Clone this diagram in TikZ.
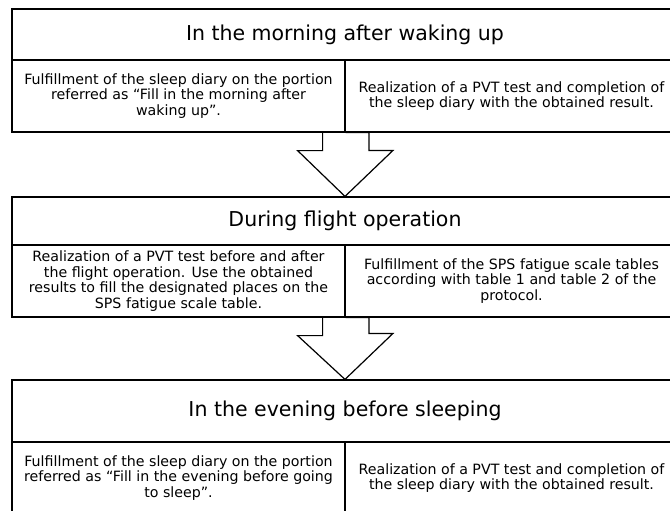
\documentclass[tikz,border=0pt]{standalone}
\usepackage{fontspec}
\setmainfont{DejaVu Sans}
\begin{document}
\begin{tikzpicture}[x=1pt, y=-1pt, line width=1.2pt,
	head/.style={draw, rectangle, minimum width=666pt, inner sep=0pt, font=\fontsize{20.5}{24}\selectfont},
	cell/.style={draw, rectangle, minimum width=333pt, minimum height=72pt, inner sep=0pt, align=center, font=\fontsize{14.2}{15.5}\selectfont}]
	\useasboundingbox (0,0) rectangle (670,511);
	\clip (0,0) rectangle (670,511);
	
	%morning
	\node (head1) at (345,34.5) [head, minimum height=51pt]{In the morning after waking up};
	\node (left1) at (178.5,96) [cell]{Fulfillment of the sleep diary on the portion\\referred as “Fill in the morning after\\waking up”.};
	\node (right1) at (511.5,96) [cell]{Realization of a PVT test and completion of\\the sleep diary with the obtained result.};
	
	%flight
	\node (head2) at (345,221) [head, minimum height=48pt]{During flight operation};
	\node (left2) at (178.5,281) [cell]{Realization of a PVT test before and after\\the flight operation. Use the obtained\\results to fill the designated places on the\\SPS fatigue scale table.};
	\node (right2) at (511.5,281) [cell]{Fulfillment of the SPS fatigue scale tables\\according with table 1 and table 2 of the\\protocol.};
	
	%evening
	\node (head3) at (345,411) [head, minimum height=62pt]{In the evening before sleeping};
	\node (left3) at (178.5,478) [cell]{Fulfillment of the sleep diary on the portion\\referred as “Fill in the evening before going\\to sleep”.};
	\node (right3) at (511.5,478) [cell]{Realization of a PVT test and completion of\\the sleep diary with the obtained result.};
	
	%arrows
	\foreach \a/\b in {left1/head2, left2/head3}{
		\draw[line join=miter] (\a.south east) ++(-23,0) -- ++(0,18) -- ++(-25,0) -- (\b.north) -- ++(48,-46) -- ++(-24,0) |- (\a.south east);
	}
\end{tikzpicture}
\end{document}
